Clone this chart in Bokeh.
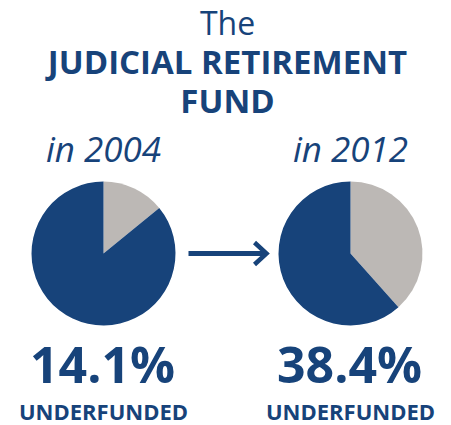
from math import pi
from bokeh.plotting import figure
from bokeh.models import Range1d
from bokeh.core.properties import value
from bokeh.embed import file_html
from bokeh.resources import INLINE

# ---- data ----
years = ["2004", "2012"]
underfunded_pct = [14.1, 38.4]
title_lines = ["The", "JUDICIAL RETIREMENT", "FUND"]
caption = "UNDERFUNDED"

# ---- style ----
BLUE = "#17437A"
GRAY = "#BCB8B5"
FONT = "Open Sans"
W, H = 451, 425
SHIFT = 0.40  # baseline compensation (em)

def Y(img_y):
    # convert screenshot y (top-down) to data y (bottom-up)
    return H - img_y

def TY(baseline, fs):
    return Y(baseline - SHIFT * fs)

p = figure(width=W, height=H, output_backend="svg", toolbar_location=None,
           x_range=Range1d(0, W), y_range=Range1d(0, H), min_border=0)
p.axis.visible = False
p.grid.visible = False
p.outline_line_color = None
p.background_fill_color = "white"
p.border_fill_color = "white"

centers_x = [103, 350]
pie_y = Y(253)
R = 72

for cx, yr, pct in zip(centers_x, years, underfunded_pct):
    frac = pct / 100.0
    start = pi / 2
    mid = pi / 2 - frac * 2 * pi
    p.wedge(x=[cx], y=[pie_y], radius=R, start_angle=[start], end_angle=[mid],
            direction="clock", fill_color=GRAY, line_color=None)
    p.wedge(x=[cx], y=[pie_y], radius=R, start_angle=[mid], end_angle=[pi / 2 - 2 * pi + 1e-9],
            direction="clock", fill_color=BLUE, line_color=None)
    p.text(x=[cx], y=[TY(162, 35)], text=["in " + yr], text_font=value(FONT),
           text_font_size="35px", text_font_style="italic", text_color=BLUE,
           text_align="center", text_baseline="alphabetic")
    p.text(x=[cx - 1], y=[TY(383, 50)], text=[f"{pct:.1f}%"], text_font=value(FONT),
           text_font_size="50px", text_font_style="bold", text_color=BLUE,
           text_align="center", text_baseline="alphabetic")
    p.text(x=[cx], y=[TY(419, 22)], text=[caption], text_font=value(FONT),
           text_font_size="22px", text_font_style="bold", text_color=BLUE,
           text_align="center", text_baseline="alphabetic")

# title
p.text(x=[227], y=[TY(35, 32)], text=[title_lines[0]], text_font=value(FONT),
       text_font_size="32px", text_color=BLUE, text_align="center", text_baseline="alphabetic")
p.text(x=[227, 227], y=[TY(74, 33), TY(113, 33)], text=title_lines[1:], text_font=value(FONT),
       text_font_size="33px", text_font_style="bold", text_color=BLUE,
       text_align="center", text_baseline="alphabetic")

# arrow
p.segment(x0=[188], y0=[Y(253)], x1=[265], y1=[Y(253)], line_color=BLUE, line_width=5)
p.line(x=[254, 266, 254], y=[Y(242), Y(253), Y(264)], line_color=BLUE, line_width=4.5,
       line_join="miter")

open("out.html", "w").write(file_html(p, INLINE))
